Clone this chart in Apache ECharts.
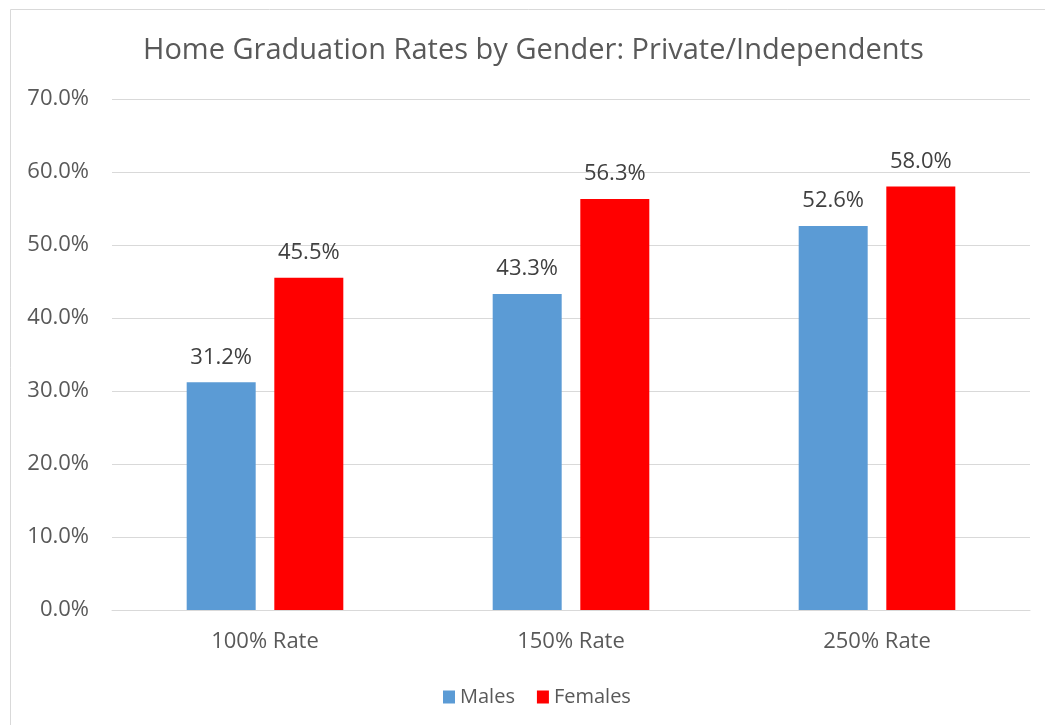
<!DOCTYPE html>
<html>
<head>
<meta charset="utf-8">
<script src="https://cdn.jsdelivr.net/npm/echarts@6/dist/echarts.min.js"></script>
<style>
	html,body{margin:0;padding:0;background:#fff;}
	#chart{width:1045px;height:725px;}
</style>
</head>
<body>
<div id="chart"></div>
<script>
var categories = ["100% Rate", "150% Rate", "250% Rate"];
var males = [31.2, 43.3, 52.6];
var females = [45.5, 56.3, 58.0];
var yTicks = [0, 10, 20, 30, 40, 50, 60, 70];

var font = "'Open Sans', 'Liberation Sans', sans-serif";
var myChart = echarts.init(document.getElementById("chart"));

//数据标签
function pctLabel(p){
	return p.value.toFixed(1) + "%";
}

myChart.setOption({
	animation: false,
	graphic: [{
		type: "rect",
		left: 8, top: 7,
		shape: {width: 1050, height: 730},
		style: {fill: "none", stroke: "#d9d9d9", lineWidth: 1}
	}],
	title: {
		text: "Home Graduation Rates by Gender: Private/Independents",
		left: 143,
		top: 36,
		padding: 0,
		textStyle: {fontFamily: font, fontSize: 29, fontWeight: "normal", color: "#595959"}
	},
	legend: {
		bottom: 13,
		left: 438,
		itemWidth: 12,
		itemHeight: 13,
		itemGap: 22,
		icon: "rect",
		textStyle: {fontFamily: font, fontSize: 20, color: "#595959"},
		data: ["Males", "Females"]
	},
	grid: {left: 112, right: 15, top: 99, bottom: 115},
	xAxis: {
		type: "category",
		data: categories,
		axisLine: {lineStyle: {color: "#d9d9d9"}},
		axisTick: {show: false},
		axisLabel: {fontFamily: font, fontSize: 22, color: "#595959", margin: 21}
	},
	yAxis: {
		type: "value",
		min: yTicks[0],
		max: yTicks[yTicks.length - 1],
		interval: 10,
		axisLine: {show: false},
		axisTick: {show: false},
		splitLine: {lineStyle: {color: "#d9d9d9"}},
		axisLabel: {
			fontFamily: font, fontSize: 22, color: "#595959", margin: 23,
			formatter: function(v){ return v.toFixed(1) + "%"; }
		}
	},
	series: [{
		name: "Males",
		type: "bar",
		data: males,
		barWidth: 69,
		barGap: "27%",
		itemStyle: {color: "#5b9bd5"},
		label: {show: true, position: "top", distance: 14, fontFamily: font, fontSize: 22, color: "#404040", formatter: pctLabel}
	},{
		name: "Females",
		type: "bar",
		data: females,
		barWidth: 69,
		itemStyle: {color: "#ff0000"},
		label: {show: true, position: "top", distance: 14, fontFamily: font, fontSize: 22, color: "#404040", formatter: pctLabel}
	}]
});
</script>
</body>
</html>
